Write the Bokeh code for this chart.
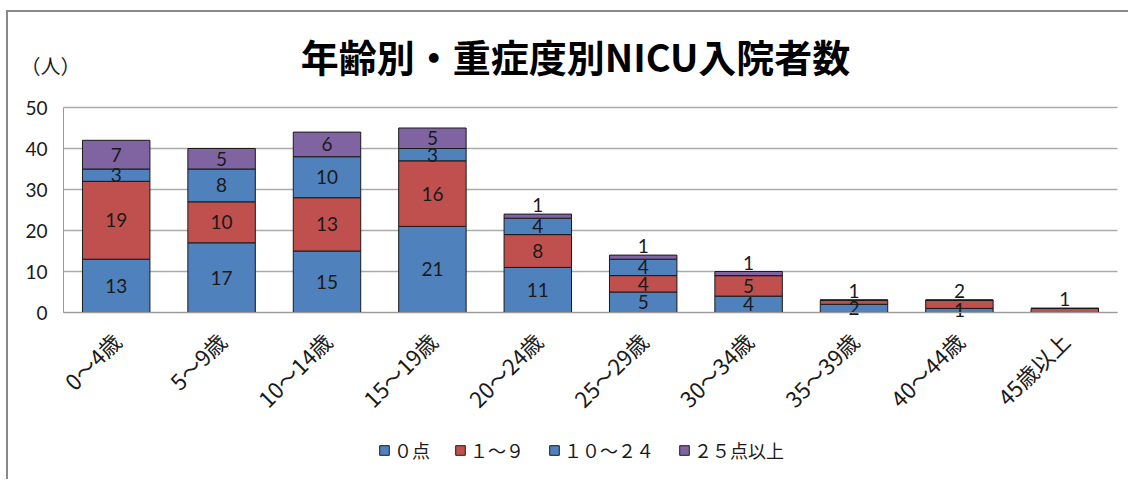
from bokeh.plotting import figure
from bokeh.models import ColumnDataSource, Label, Legend, LegendItem, Range1d, Grid, FixedTicker
from bokeh.core.properties import value
from bokeh.embed import file_html
from bokeh.resources import INLINE

categories = ["0～4歳", "5～9歳", "10～14歳", "15～19歳", "20～24歳",
              "25～29歳", "30～34歳", "35～39歳", "40～44歳", "45歳以上"]
score_0 = [13, 17, 15, 21, 11, 5, 4, 2, 1, 0]
score_1_9 = [19, 10, 13, 16, 8, 4, 5, 1, 2, 1]
score_10_24 = [3, 8, 10, 3, 4, 4, 0, 0, 0, 0]
score_25_plus = [7, 5, 6, 5, 1, 1, 1, 0, 0, 0]
series_keys = ["s0", "s1", "s2", "s3"]
series_names = ["０点", "１～９", "１０～２４", "２５点以上"]
colors = ["#4F81BD", "#C0504D", "#4F81BD", "#8064A2"]
y_ticks = [0, 10, 20, 30, 40, 50]

# ---- layout (pixels) ----
W, H = 1122, 469                 # canvas size
PL, PR, PT, PB = 55, 1109, 95, 300   # plot area edges inside canvas
n = len(categories)
ymax = 50
xs_per_px = n / (PR - PL)
ys_per_px = ymax / (PB - PT)
x_lo = 0.5 - PL * xs_per_px
x_hi = n + 0.5 + (W - PR) * xs_per_px
y_lo = -(H - PB) * ys_per_px
y_hi = ymax + PT * ys_per_px

series = [score_0, score_1_9, score_10_24, score_25_plus]
xpos = list(range(1, n + 1))
src = ColumnDataSource(dict(x=xpos, s0=score_0, s1=score_1_9, s2=score_10_24, s3=score_25_plus))

p = figure(width=W, height=H, x_range=Range1d(x_lo, x_hi), y_range=Range1d(y_lo, y_hi),
           output_backend="svg", toolbar_location=None, title=None,
           min_border=0, min_border_left=0, min_border_right=0, min_border_top=0, min_border_bottom=0)
p.styles = {"margin-left": "6px", "margin-top": "10px",
            "border-left": "2px solid #8a8a8a", "border-top": "2px solid #8a8a8a"}
p.outline_line_color = None
p.background_fill_color = "white"
p.border_fill_color = "white"

# grid (only across plot area)
p.xgrid.grid_line_color = None
p.ygrid.ticker = FixedTicker(ticks=y_ticks)
p.ygrid.grid_line_color = "#ABABAB"
p.ygrid.grid_line_width = 1.5
if "cross_bounds" in Grid.properties():
    p.ygrid.cross_bounds = (0.5, n + 0.5)
else:
    p.ygrid.grid_line_color = None
    p.segment(x0=[0.5] * len(y_ticks), x1=[n + 0.5] * len(y_ticks), y0=y_ticks, y1=y_ticks,
              line_color="#ABABAB", line_width=1.5)

rs = p.vbar_stack(series_keys, x="x", width=0.64, source=src, fill_color=colors,
                  line_color="#1a1a1a", line_width=1)

# data labels
cx, cy, ct = [], [], []
ax, ay, at = [], [], []
for i in range(n):
    base = 0
    vals = [s[i] for s in series]
    top_idx = max(k for k, v in enumerate(vals) if v > 0)
    for k, v in enumerate(vals):
        if v > 0:
            if k == top_idx and v <= 2:
                ax.append(xpos[i]); ay.append(base + v); at.append(str(v))
            else:
                cx.append(xpos[i]); cy.append(base + v / 2); ct.append(str(v))
        base += v
p.text(x=cx, y=cy, text=ct, text_align="center", text_baseline="middle",
       text_font=value("Lato"), text_font_size="19px", text_color="#1a1a1a")
p.text(x=ax, y=ay, text=at, text_align="center", text_baseline="bottom", y_offset=-2,
       text_font=value("Lato"), text_font_size="19px", text_color="#1a1a1a")

# axes, fixed inside the canvas-wide frame
ya = p.yaxis[0]
ya.fixed_location = 0.5
ya.bounds = (0, ymax)
ya.ticker = FixedTicker(ticks=y_ticks)
ya.axis_line_color = "#9a9a9a"
ya.major_tick_line_color = None
ya.minor_tick_line_color = None
ya.major_tick_out = 0
ya.major_label_standoff = 16
ya.major_label_text_font = "Lato"
ya.major_label_text_font_size = "19px"
ya.major_label_text_color = "#1a1a1a"

xa = p.xaxis[0]
xa.fixed_location = 0
xa.bounds = (0.5, n + 0.5)
xa.ticker = FixedTicker(ticks=xpos)
xa.major_label_overrides = {xp: c for xp, c in zip(xpos, categories)}
xa.axis_line_color = "#9a9a9a"
xa.major_tick_line_color = None
xa.minor_tick_line_color = None
xa.major_tick_out = 0
xa.major_label_orientation = 0.785398
xa.major_label_standoff = 24
xa.major_label_text_font = "Noto Sans CJK JP"
xa.major_label_text_font_size = "22px"
xa.major_label_text_color = "#1a1a1a"

# title and unit
p.add_layout(Label(x=0.5 + (575 - 63) * xs_per_px, y=(312 - 55) * ys_per_px,
                   text="年齢別・重症度別NICU入院者数", text_align="center",
                   text_baseline="middle", text_font="Noto Sans CJK JP", text_font_style="bold",
                   text_font_size="38px", text_color="#000000"))
p.add_layout(Label(x=0.5 + (50 - 63) * xs_per_px, y=(312 - 65) * ys_per_px, text="（人）",
                   text_align="center", text_baseline="middle",
                   text_font="Noto Sans CJK JP", text_font_size="20px", text_color="#1a1a1a"))

legend = Legend(items=[LegendItem(label=nm, renderers=[r]) for nm, r in zip(series_names, rs)],
                orientation="horizontal", location=(370, 18))
legend.border_line_color = None
legend.background_fill_alpha = 0
legend.padding = 0
legend.margin = 0
legend.glyph_width = 12
legend.glyph_height = 12
legend.label_standoff = 4
legend.spacing = 24
legend.label_text_font = "Noto Sans CJK JP"
legend.label_text_font_size = "18px"
legend.label_text_color = "#1a1a1a"
p.add_layout(legend)

open("out.html", "w").write(file_html(p, INLINE))
